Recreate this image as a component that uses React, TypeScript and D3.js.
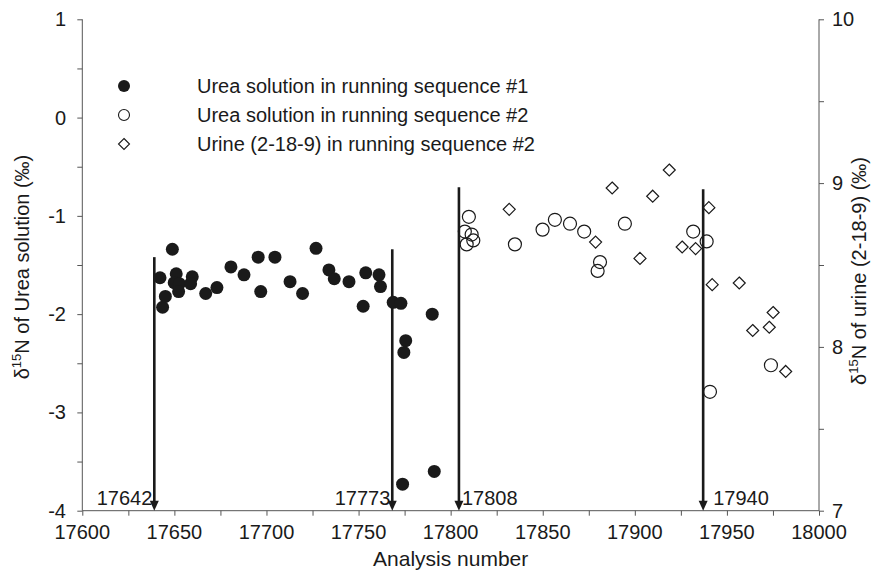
import React, { useEffect, useRef } from "react";
import * as d3 from "d3";

// sequence #1 urea solution (left axis)
const seq1X = [17642.2, 17643.6, 17645.1, 17648.9, 17651.0, 17649.9, 17652.7, 17652.3, 17659.7, 17658.8, 17667.0, 17673.1, 17680.7, 17687.8, 17695.5, 17696.9, 17704.6, 17712.8, 17719.6, 17726.9, 17733.9, 17736.8, 17744.8, 17752.5, 17753.9, 17761.1, 17761.9, 17768.8, 17773.0, 17775.6, 17774.6, 17790.0, 17773.9, 17791.1];
const seq1Y = [-1.63, -1.93, -1.82, -1.34, -1.59, -1.68, -1.69, -1.77, -1.62, -1.69, -1.79, -1.73, -1.52, -1.60, -1.42, -1.77, -1.42, -1.67, -1.79, -1.33, -1.55, -1.64, -1.67, -1.92, -1.58, -1.60, -1.72, -1.88, -1.89, -2.27, -2.39, -2.00, -3.73, -3.60];

// sequence #2 urea solution (left axis)
const seq2X = [17809.9, 17807.7, 17811.4, 17812.3, 17808.7, 17834.9, 17849.9, 17856.6, 17864.8, 17872.5, 17881.1, 17879.8, 17894.6, 17931.7, 17939.0, 17973.9, 17940.8];
const seq2Y = [-1.01, -1.16, -1.19, -1.25, -1.29, -1.29, -1.14, -1.04, -1.08, -1.16, -1.47, -1.56, -1.08, -1.16, -1.26, -2.52, -2.79];

// urine (2-18-9), sequence #2 (right axis)
const urineX = [17831.8, 17878.7, 17887.7, 17902.8, 17909.7, 17918.7, 17925.7, 17933.0, 17940.2, 17942.0, 17956.7, 17964.0, 17973.0, 17975.1, 17981.9];
const urineY = [8.84, 8.64, 8.97, 8.54, 8.92, 9.08, 8.61, 8.60, 8.85, 8.38, 8.39, 8.10, 8.12, 8.21, 7.85];

// run markers
const arrowX = [17639.1, 17768.3, 17804.5, 17937.1];
const arrowTop = [-1.42, -1.34, -0.71, -0.73];
const arrowLabels = ["17642", "17773", "17808", "17940"];
const arrowLabelSide = ["left", "left", "right", "right"];

const xTicks = [17600, 17650, 17700, 17750, 17800, 17850, 17900, 17950, 18000];
const leftTicks = [1, 0, -1, -2, -3, -4];
const rightTicks = [10, 9, 8, 7];

const legendItems = [
  "Urea solution in running sequence #1",
  "Urea solution in running sequence #2",
  "Urine (2-18-9) in running sequence #2",
];

const FONT = "'Liberation Sans', Arial, Helvetica, sans-serif";

function App() {
  const ref = useRef(null);

  useEffect(() => {
    document.body.style.margin = "0";
    const svg = d3.select(ref.current);
    svg.selectAll("*").remove();

    const left = 82.3, right = 819, top = 19.3, bottom = 510.7;
    const x = d3.scaleLinear().domain([17600, 18000]).range([left, right]);
    const yL = d3.scaleLinear().domain([-4, 1]).range([bottom, top]);
    const yR = d3.scaleLinear().domain([7, 10]).range([bottom, top]);
    const axisColor = "#555";

    // axes, minor ticks included, labels drawn separately
    const gx = svg.append("g").attr("transform", `translate(0,${bottom})`);
    gx.call(d3.axisBottom(x).tickValues(d3.range(17600, 18001, 25)).tickSize(5).tickFormat(() => ""));
    const gl = svg.append("g").attr("transform", `translate(${left},0)`);
    gl.call(d3.axisLeft(yL).tickValues(d3.range(-4, 1.01, 0.5)).tickSize(5).tickFormat(() => ""));
    const gr = svg.append("g").attr("transform", `translate(${right},0)`);
    gr.call(d3.axisRight(yR).tickValues(d3.range(7, 10.01, 0.5)).tickSize(5).tickFormat(() => ""));
    svg.selectAll(".domain").attr("stroke", axisColor).attr("stroke-width", 1);
    svg.selectAll(".tick line").attr("stroke", axisColor).attr("stroke-width", 1);
    gx.select(".domain").attr("d", `M${left},0H${right}`);
    gl.select(".domain").attr("d", `M0,${top}V${bottom}`);
    gr.select(".domain").attr("d", `M0,${top}V${bottom}`);

    const txt = svg.append("g").attr("font-family", FONT).attr("fill", "#1a1a1a");
    txt.selectAll(".xt").data(xTicks).join("text")
      .attr("x", (d) => x(d)).attr("y", 539).attr("text-anchor", "middle")
      .attr("font-size", 20).text((d) => d);
    txt.selectAll(".lt").data(leftTicks).join("text")
      .attr("x", 66).attr("y", (d) => yL(d) + 7).attr("text-anchor", "end")
      .attr("font-size", 20).text((d) => d);
    txt.selectAll(".rt").data(rightTicks).join("text")
      .attr("x", 832).attr("y", (d) => yR(d) + 7).attr("text-anchor", "start")
      .attr("font-size", 20).text((d) => d);

    txt.append("text").attr("x", (left + right) / 2).attr("y", 566)
      .attr("text-anchor", "middle").attr("font-size", 21).text("Analysis number");

    const ylab = txt.append("text")
      .attr("transform", `translate(29,${(top + bottom) / 2 + 2}) rotate(-90)`)
      .attr("text-anchor", "middle").attr("font-size", 20);
    ylab.append("tspan").text("δ");
    ylab.append("tspan").attr("font-size", 13).attr("dy", -8).text("15");
    ylab.append("tspan").attr("dy", 8).text("N of Urea solution (‰)");

    const yrlab = txt.append("text")
      .attr("transform", `translate(866,${(top + bottom) / 2 + 6}) rotate(-90)`)
      .attr("text-anchor", "middle").attr("font-size", 20);
    yrlab.append("tspan").text("δ");
    yrlab.append("tspan").attr("font-size", 13).attr("dy", -8).text("15");
    yrlab.append("tspan").attr("dy", 8).text("N of urine (2-18-9) (‰)");

    // arrows
    const arr = svg.append("g");
    arrowX.forEach((v, i) => {
      const ax = x(v);
      arr.append("line").attr("x1", ax).attr("x2", ax)
        .attr("y1", yL(arrowTop[i])).attr("y2", bottom - 8)
        .attr("stroke", "#1a1a1a").attr("stroke-width", 2.6);
      arr.append("path")
        .attr("d", `M${ax - 4.5},${bottom - 10}L${ax + 4.5},${bottom - 10}L${ax},${bottom}Z`)
        .attr("fill", "#1a1a1a");
      const isLeft = arrowLabelSide[i] === "left";
      txt.append("text")
        .attr("x", isLeft ? ax - 2 : ax + (i === 3 ? 10 : 3))
        .attr("y", 505)
        .attr("text-anchor", isLeft ? "end" : "start")
        .attr("font-size", 20).text(arrowLabels[i]);
    });

    // data
    const pts = svg.append("g");
    pts.selectAll(".s1").data(seq1X).join("circle")
      .attr("cx", (d) => x(d)).attr("cy", (d, i) => yL(seq1Y[i])).attr("r", 6.5)
      .attr("fill", "#1a1a1a");
    pts.selectAll(".s2").data(seq2X).join("circle")
      .attr("cx", (d) => x(d)).attr("cy", (d, i) => yL(seq2Y[i])).attr("r", 6.5)
      .attr("fill", "none").attr("stroke", "#1a1a1a").attr("stroke-width", 1.2);
    const diamond = (cx, cy, s) => `M${cx},${cy - s}L${cx + s},${cy}L${cx},${cy + s}L${cx - s},${cy}Z`;
    pts.selectAll(".s3").data(urineX).join("path")
      .attr("d", (d, i) => diamond(x(d), yR(urineY[i]), 6))
      .attr("fill", "none").attr("stroke", "#1a1a1a").attr("stroke-width", 1.2);

    // legend
    const lg = svg.append("g");
    const ly = [86, 115, 144];
    lg.append("circle").attr("cx", 124).attr("cy", ly[0]).attr("r", 6).attr("fill", "#1a1a1a");
    lg.append("circle").attr("cx", 124).attr("cy", ly[1]).attr("r", 5.5)
      .attr("fill", "none").attr("stroke", "#1a1a1a").attr("stroke-width", 1.1);
    lg.append("path").attr("d", diamond(124, ly[2], 5.5))
      .attr("fill", "none").attr("stroke", "#1a1a1a").attr("stroke-width", 1.1);
    legendItems.forEach((t, i) => {
      txt.append("text").attr("x", 197).attr("y", ly[i] + 7)
        .attr("font-size", 20).text(t);
    });
  }, []);

  return <svg ref={ref} width={877} height={571} style={{ display: "block", background: "#fff" }}></svg>;
}

export default App;
